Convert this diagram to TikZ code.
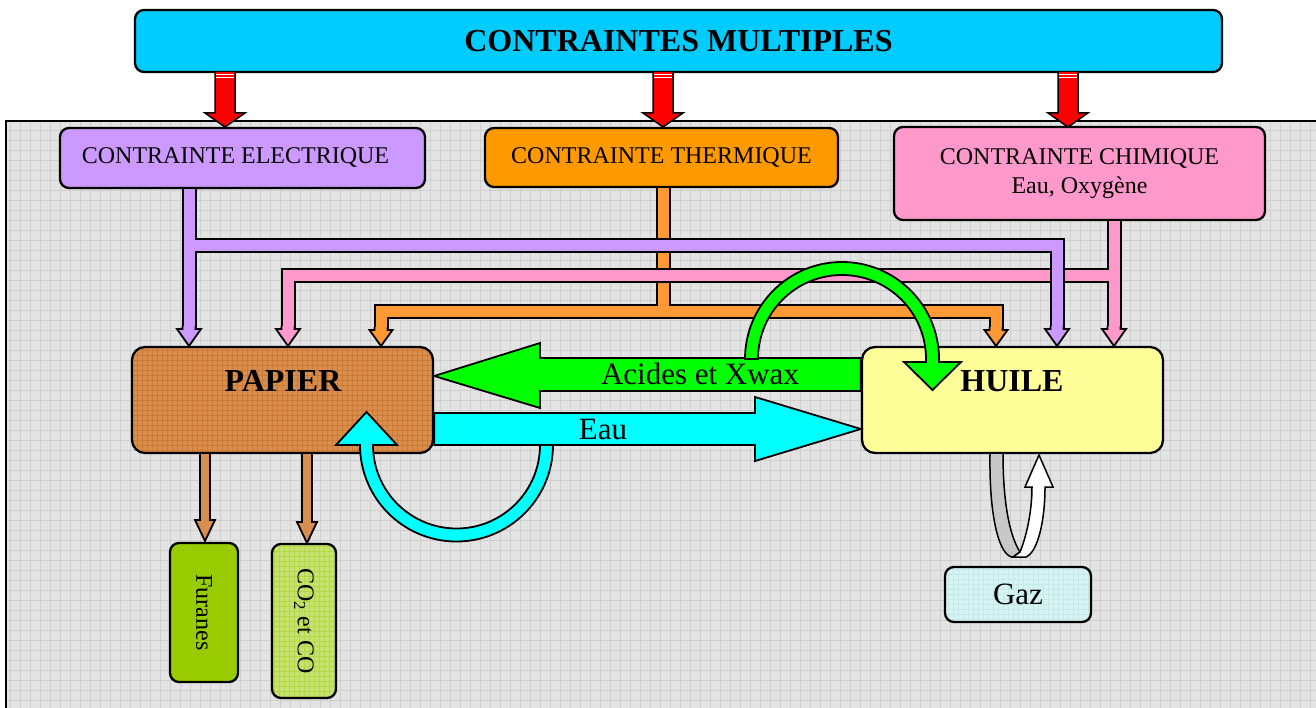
\documentclass[tikz,border=0pt]{standalone}
\usepackage{fontspec}
\setmainfont{Liberation Serif}
\definecolor{ctitle}{RGB}{0,204,255}
\definecolor{cpurple}{RGB}{204,153,255}
\definecolor{corange}{RGB}{255,153,0}
\definecolor{corangel}{RGB}{255,153,51}
\definecolor{cpink}{RGB}{255,153,204}
\definecolor{cbrown}{RGB}{216,142,78}
\definecolor{cbrowngrid}{RGB}{206,122,50}
\definecolor{cyellow}{RGB}{255,255,153}
\definecolor{cgreen}{RGB}{0,255,0}
\definecolor{ccyan}{RGB}{0,255,255}
\definecolor{cfuran}{RGB}{153,204,0}
\definecolor{cco}{RGB}{198,226,112}
\definecolor{ccogrid}{RGB}{180,216,70}
\definecolor{cgaz}{RGB}{214,244,244}
\definecolor{cgazgrid}{RGB}{198,234,234}
\definecolor{cbg}{RGB}{227,227,227}
\definecolor{cbggrid}{RGB}{207,207,207}
\definecolor{cloop}{RGB}{200,200,200}
\newcommand\myhead[6]{\filldraw[fill=#4, draw=black, line width=1.8pt, line join=miter] (#1-#6,#2-3) -- (#1-#6,#2) -- (#1-#5,#2) -- (#1,#3) -- (#1+#5,#2) -- (#1+#6,#2) -- (#1+#6,#2-3);}
\newcommand\redarr[1]{%
  \filldraw[fill=red, draw=black, line width=1.5pt, line join=miter] (#1-10,72) -- (#1-10,113) -- (#1-20,113) -- (#1,127) -- (#1+20,113) -- (#1+10,113) -- (#1+10,72);
  \draw[white, line width=0.9pt] (#1-9.3,74.8) -- (#1+9.3,74.8) (#1-9.3,77.6) -- (#1+9.3,77.6);}
\begin{document}
\begin{tikzpicture}[x=1pt,y=-1pt,
  box/.style={draw=black, line width=2.3pt, rounded corners=9pt, align=center, inner sep=0pt, text=black},
  bigbox/.style={box, rounded corners=13pt},
  fA/.style={font=\fontsize{24}{29}\selectfont},
  fB/.style={font=\fontsize{31}{36}\selectfont},
  fBb/.style={font=\fontsize{32}{36}\selectfont\bfseries},
  outerline/.style={line width=15pt, draw=black, line cap=butt, line join=miter},
  innerline/.style={line width=11pt, line cap=butt, line join=miter},
  arrowshape/.style={draw=black, line width=1.8pt, line join=miter},
  gridfill/.style={path picture={\draw[#1, line width=0.5pt, step=5pt] (path picture bounding box.south west) grid (path picture bounding box.north east);}},
]
\useasboundingbox (0,0) rectangle (1316,708);
% background panel
\fill[cbg] (6,121) rectangle (1320,712);
\begin{scope}
  \clip (6,121) rectangle (1320,712);
  \draw[cbggrid, line width=0.7pt, step=10pt] (0pt,-712pt) grid (1320pt,-121pt);
\end{scope}
\draw[line width=2pt] (6,712) -- (6,121) -- (1320,121);

% title and red arrows
\node[box, fill=ctitle, minimum width=1087, minimum height=62, fBb] (title) at (678.5,41) {CONTRAINTES MULTIPLES};
\redarr{225}
\redarr{663}
\redarr{1068}

% constraint boxes
\node[box, fill=cpurple, minimum width=365, minimum height=60, fA] (elec) at (242.5,158) {\hspace*{-14pt}CONTRAINTE ELECTRIQUE};
\node[box, fill=corange, minimum width=353, minimum height=59, fA] (therm) at (661.5,157.5) {CONTRAINTE THERMIQUE};
\node[box, fill=cpink, minimum width=371, minimum height=93, fA] (chim) at (1079.5,173.5) {CONTRAINTE CHIMIQUE\\Eau, Oxygène};

% main boxes
\node[bigbox, fill=cbrown, minimum width=301, minimum height=106, gridfill=cbrowngrid] (papier) at (282.5,400) {};
\node[bigbox, fill=cyellow, minimum width=301, minimum height=106] (huile) at (1012.5,400) {};

% orange connector
\draw[outerline] (663,0 |- therm.south) -- (663,312) (381,332) -- (381,312) -- (996,312) -- (996,332);
\draw[innerline, corangel] (663,0 |- therm.south) -- (663,312) (381,332) -- (381,312) -- (996,312) -- (996,332);
\myhead{381}{330}{346}{corangel}{11.5}{6.5}
\myhead{996}{330}{346}{corangel}{11.5}{6.5}
% pink connector
\draw[outerline] (1114,0 |- chim.south) -- (1114,332) (1114,276) -- (288,276) -- (288,332);
\draw[innerline, cpink] (1114,0 |- chim.south) -- (1114,332) (1114,276) -- (288,276) -- (288,332);
\myhead{288}{329}{346}{cpink}{12}{6.5}
\myhead{1114}{329}{346}{cpink}{12}{6.5}
% purple connector
\draw[outerline] (189,0 |- elec.south) -- (189,332) (189,246) -- (1057,246) -- (1057,332);
\draw[innerline, cpurple] (189,0 |- elec.south) -- (189,332) (189,246) -- (1057,246) -- (1057,332);
\myhead{189}{329}{346}{cpurple}{12}{6.5}
\myhead{1057}{329}{346}{cpurple}{12}{6.5}

% exchange arrows
\filldraw[arrowshape, fill=cgreen] (papier.east |- 0,376) -- (540,343) -- (540,358) -- (huile.west |- 0,358) -- (huile.west |- 0,391) -- (540,391) -- (540,408) -- cycle;
\filldraw[arrowshape, fill=ccyan] (papier.east |- 0,445) -- (papier.east |- 0,413) -- (755,413) -- (755,397) -- (huile.west |- 0,429) -- (755,461) -- (755,445) -- cycle;
\node[fB] (acides) at (700,374) {Acides et Xwax};
\node[fB] (eau) at (603,430) {Eau};

% curved arrows
\filldraw[arrowshape, fill=cgreen] (745,359) arc[start angle=180, end angle=0, radius=97pt] -- (939,362) -- (961,362) -- (932.5,390) -- (904,362) -- (926,362) -- (926,359) arc[start angle=0, end angle=180, radius=84pt] -- cycle;
\filldraw[arrowshape, fill=ccyan] (553,445) arc[start angle=0, end angle=-180, radius=96.5pt] -- (336,445) -- (366.5,412) -- (397,445) -- (373,445) arc[start angle=180, end angle=360, radius=83.5pt] -- cycle;

% box labels
\node[fBb] (papiertxt) at (283,381) {PAPIER};
\node[fBb] (huiletxt) at (1012,381) {HUILE};

% products of paper
\node[box, fill=cfuran, minimum width=68, minimum height=139] (furanes) at (204,612.5) {};
\node[fA, rotate=-90] (furtxt) at (furanes.center) {Furanes};
\node[box, fill=cco, minimum width=64, minimum height=154, gridfill=ccogrid] (co) at (304,621) {};
\node[fA, rotate=-90] (cotxt) at (co.center) {CO\textsubscript{2} et CO};
\draw[line width=12pt, black, line cap=butt] (205,0 |- papier.south) -- (205,522);
\draw[line width=8pt, cbrown, line cap=butt] (205,0 |- papier.south) -- (205,522);
\myhead{205}{520}{541}{cbrown}{10}{5}
\draw[line width=12pt, black, line cap=butt] (307,0 |- papier.south) -- (307,524);
\draw[line width=8pt, cbrown, line cap=butt] (307,0 |- papier.south) -- (307,524);
\myhead{307}{522}{543}{cbrown}{10}{5}

% gas loop
\filldraw[fill=cloop, draw=black, line width=1.5pt, line join=round] (990,454) .. controls (989,520) and (1000,557) .. (1013,557) -- (1020,552) .. controls (1009,535) and (1003,500) .. (1003,454);
\filldraw[fill=white, draw=black, line width=1.5pt, line join=miter] (1020,552) .. controls (1027,535) and (1032,510) .. (1032,487) -- (1025,487) -- (1039,455) -- (1053,487) -- (1045,487) .. controls (1045,520) and (1038,552) .. (1026,557) -- (1013,557) -- cycle;
\node[box, fill=cgaz, minimum width=146, minimum height=55, fB, gridfill=cgazgrid] (gaz) at (1018,594.5) {};
\node[fB] (gaztxt) at (gaz.center) {Gaz};
\end{tikzpicture}
\end{document}
